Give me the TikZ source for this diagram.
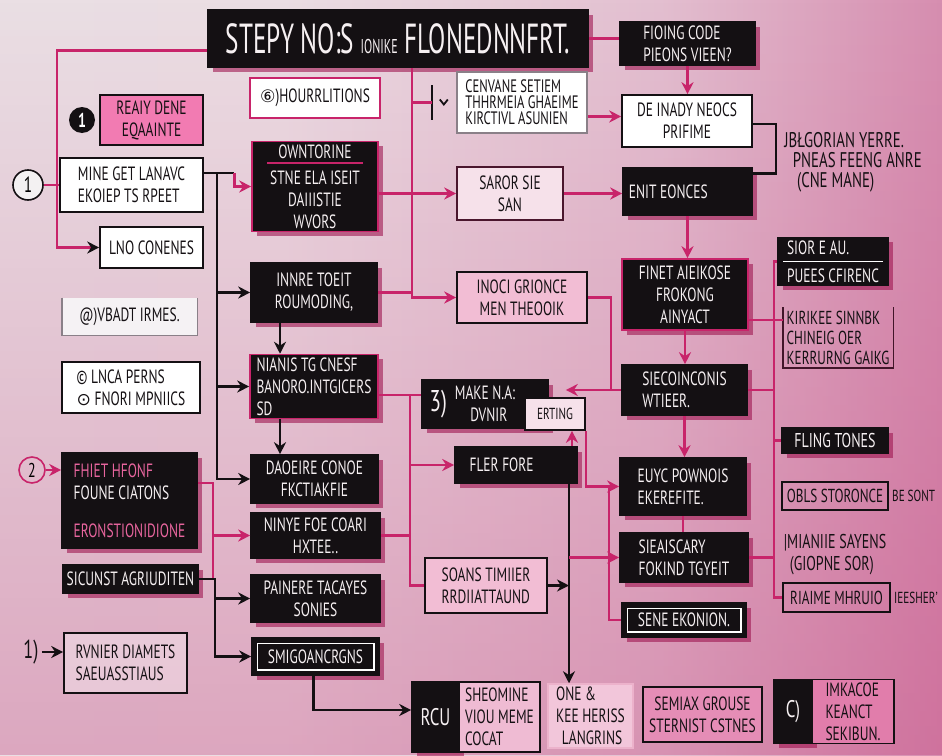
\documentclass[tikz,border=0pt]{standalone}
\usepackage{fontspec}
\setmainfont{PT Sans}[FakeStretch=0.7]
\newfontfamily\titlefont{PT Sans}[FakeStretch=0.6]
\newfontfamily\symfont{DejaVu Sans}
\usetikzlibrary{arrows.meta, shadows, fadings}
\definecolor{fcInk}{HTML}{141013}
\definecolor{fcText}{HTML}{F6F0F2}
\definecolor{fcPink}{HTML}{C8246A}
\definecolor{fcHot}{HTML}{F27BB2}
\definecolor{fcHotText}{HTML}{E8659E}
\definecolor{fcRose}{HTML}{F2BDD4}
\definecolor{fcBlush}{HTML}{F6E1EA}
\definecolor{fcCandy}{HTML}{E58DB6}
\definecolor{fcGrey}{HTML}{8A8088}
\definecolor{fcWallA}{HTML}{E8E3E6}
\definecolor{fcWallB}{HTML}{EBDDE3}
\definecolor{fcWallC}{HTML}{E3BFD0}
\definecolor{fcWallD}{HTML}{D27DA5}
\definecolor{fcWallE}{HTML}{C23F7B}
\definecolor{fcShade}{HTML}{9E1650}
\pgfdeclarehorizontalshading{fcwall}{100bp}{color(0bp)=(fcWallA); color(40bp)=(fcWallB);
  color(60bp)=(fcWallC); color(80bp)=(fcWallD); color(100bp)=(fcWallE)}
\tikzfading[name=fcrise, top color=transparent!100, bottom color=transparent!0]
\tikzset{
  fcnode/.style={align=left, inner sep=1.5pt, text=fcInk,
    font=\fontsize{9.6}{11}\selectfont},
  wh/.style 2 args={minimum width=#1*0.5pt, minimum height=#2*0.5pt},
  inkbox/.style={fcnode, fill=fcInk, draw=fcInk, thick, text=fcText,
    drop shadow={shadow xshift=2.4pt, shadow yshift=-2.4pt, fill=fcShade, opacity=0.6}},
  inkpink/.style={inkbox, draw=fcPink},
  paperbox/.style={fcnode, fill=white, draw=fcInk, thick},
  rosebox/.style={fcnode, fill=fcRose, draw=fcInk, thick},
  candybox/.style={fcnode, fill=fcCandy, draw=fcInk, thick},
  ring/.style={circle, draw=fcInk, thick, inner sep=0pt, minimum size=15pt,
    font=\fontsize{11}{12}\selectfont},
  pinkline/.style={fcPink, line width=1.2pt},
  pinkarrow/.style={pinkline, -{Stealth[length=6pt, width=6pt]}},
  pinkinkarrow/.style={pinkline, -{Stealth[length=6pt, width=6pt, color=fcInk]}},
  inkline/.style={fcInk, line width=1.1pt},
  inkarrow/.style={inkline, -{Stealth[length=6pt, width=6pt]}},
  innerframe/.style={white, line width=0.7pt}
}

\begin{document}
\begin{tikzpicture}[x=0.5pt, y=-0.5pt]
  \useasboundingbox (0,0) rectangle (942,755);
  \shade[shading=fcwall] (0,0) rectangle (942,755);
  \fill[fcWallE, path fading=fcrise, fill opacity=0.35] (0,0) rectangle (942,755);

  % title and top row
  \node[inkbox, wh={380}{57}, align=center, font=\titlefont\fontsize{21}{22}\selectfont] (title) at (398,38.5)
    {STEPY NO:S {\fontsize{10}{10}\selectfont IONIKE} FLONEDNNFRT.};
  \node[inkbox, wh={135}{43}] (fioing) at (687.5,43.5) {FIOING CODE\\PIEONS VIEEN?};

  % left column
  \node[circle, fill=fcInk, text=white, inner sep=0pt, minimum size=13pt,
    font=\bfseries\fontsize{10}{12}\selectfont] (dot1) at (82,120) {1};
  \node[fcnode, fill=fcHot, draw=fcInk, thick, wh={103}{50}, align=center] (ready) at (151.5,120) {REAIY DENE\\EQAAINTE};
  \node[ring, fill=white!50!fcWallA] (one1) at (28,185) {1};
  \node[paperbox, line width=1.4pt, wh={143}{54}] (mine) at (131.5,185) {MINE GET LANAVC\\EKOIEP TS RPEET};
  \node[paperbox, wh={103}{41}] (lno) at (151.5,247.5) {LNO CONENES};
  \node[fcnode, fill=white!55!fcWallA, wh={135}{37}] (vbadt) at (129.5,316.5) {@)VBADT IRMES.};
  \draw[inkline, fcGrey, line width=0.9pt] (vbadt.north west) |- (vbadt.south east) -- (vbadt.north east);
  \node[paperbox, wh={138}{51}] (lnca) at (131,387.5) {© LNCA PERNS\\{\symfont\fontsize{8.6}{10}\selectfont ⊙} FNORI MPNIICS};
  \node[ring, draw=fcPink, minimum size=13pt, font=\fontsize{10}{12}\selectfont] (two) at (32,470) {2};
  \node[inkbox, wh={135}{95}] (fhiet) at (129.5,500.5)
    {\textcolor{fcHotText}{FHIET HFONF}\\FOUNE CIATONS\\[8pt]\textcolor{fcHotText}{ERONSTIONIDIONE}};
  \node[inkbox, wh={135}{28}] (sicunst) at (130.5,579) {SICUNST AGRIUDITEN};
  \node[fcnode, font=\fontsize{13}{14}\selectfont] (one3) at (31,652) {1)};
  \node[fcnode, fill=white, fill opacity=0.35, text opacity=1, draw=fcInk, thick, wh={123}{60}] (rvnier) at (125.5,663)
    {RVNIER DIAMETS\\SAEUASSTIAUS};

  % second column
  \node[fcnode, fill=white, draw=fcPink, line width=1.4pt, wh={130}{40}] (hourr) at (315,98)
    {{\symfont\fontsize{8.6}{10}\selectfont ⑥})HOURRLITIONS};
  \node[inkpink, wh={126}{83}, align=center] (ohm) at (315,186.5) {OWNTORINE\\[2pt]STNE ELA ISEIT\\DAIIISTIE\\WVORS};
  \draw[pinkline, line width=0.9pt] ([shift={(8pt,-11pt)}]ohm.north west) -- ([shift={(-8pt,-11pt)}]ohm.north east);
  \node[inkbox, wh={126}{59}, align=center] (innre) at (314,292.5) {INNRE TOEIT\\ROUMODING,};
  \node[inkpink, wh={128}{61}] (nianis) at (314,386.5) {NIANIS TG CNESF\\BANORO.INTGICERS\\SD};
  \node[inkbox, wh={127}{48}, align=center] (daoeire) at (314.5,479) {DAOEIRE CONOE\\FKCTIAKFIE};
  \node[inkbox, wh={129}{45}, align=center] (ninye) at (315.5,535.5) {NINYE FOE COARI\\HXTEE..};
  \node[inkbox, wh={129}{47}, align=center] (painere) at (315.5,598.5) {PAINERE TACAYES\\SONIES};
  \node[inkbox, wh={127}{37}] (smig) at (315.5,656.5) {SMIGOANCRGNS};
  \draw[innerframe] ([shift={(3pt,-3pt)}]smig.north west) rectangle ([shift={(-3pt,3pt)}]smig.south east);

  % third column
  \node[fcnode, fill=white, draw=fcGrey, line width=1.2pt, wh={130}{61}, font=\fontsize{9}{8}\selectfont] (cenv) at (522,102.5)
    {CENVANE SETIEM\\THHRMEIA GHAEIME\\KIRCTIVL ASUNIEN};
  \draw[inkline, line width=0.9pt] ([shift={(-12pt,8.75pt)}]cenv.west) -- ([shift={(-12pt,-8.75pt)}]cenv.west);
  \draw[inkline, line width=0.9pt] ([shift={(-8pt,1.5pt)}]cenv.west) -- ([shift={(-6pt,-1pt)}]cenv.west) -- ([shift={(-4pt,1.5pt)}]cenv.west);
  \node[fcnode, fill=fcBlush, draw=fcInk!70!fcPink, thick, wh={106}{53}, align=center] (saror) at (510,193.5) {SAROR SIE\\SAN};
  \node[rosebox, wh={130}{51}, align=center] (inoci) at (522,297.5) {INOCI GRIONCE\\MEN THEOOIK};
  \node[inkbox, wh={126}{48}, label={[text=fcText, anchor=west, inner xsep=4pt,
    font=\fontsize{15}{15}\selectfont]west:3)}] (make) at (485,404) {MAKE N.A:\\\hspace*{0.8em}DVNIR};
  \node[fcnode, fill=fcBlush, draw=fcInk, thick, wh={60}{32}, font=\fontsize{8}{9}\selectfont] (erting) at (555,414) {ERTING};
  \node[inkbox, wh={122}{36}] (fler) at (516,465) {FLER FORE\hspace*{1.5em}};
  \node[rosebox, wh={122}{55}] (soans) at (486,585.5) {SOANS TIMIIER\\RRDIIATTAUND};

  % fourth column
  \node[paperbox, wh={130}{52}, align=center] (deinady) at (687,121) {DE INADY NEOCS\\PRIFIME};
  \node[inkbox, wh={129}{47}] (enit) at (687.5,191.5) {ENIT EONCES\hspace*{2em}};
  \node[inkpink, wh={126}{71}, align=center] (finet) at (685,294.5) {FINET AIEIKOSE\\FROKONG\\AINYACT};
  \node[inkbox, wh={125}{50}] (sieco) at (684.5,390) {SIECOINCONIS\\WTIEER.};
  \node[inkbox, wh={126}{57}] (euyc) at (683,486.5) {EUYC POWNOIS\\EKEREFITE.};
  \node[inkbox, wh={128}{49}] (siea) at (684,557.5) {SIEAISCARY\\FOKIND TGYEIT};
  \node[inkbox, wh={124}{34}] (sene) at (684,620) {SENE EKONION.};
  \draw[innerframe] ([shift={(3pt,-3pt)}]sene.north west) rectangle ([shift={(-3pt,3pt)}]sene.south east);

  % right column
  \node[fcnode, anchor=west, font=\fontsize{10.6}{10}\selectfont] (jbl) at (781,162.5)
    {JBŁGORIAN YERRE.\\\hspace*{0.4em}PNEAS FEENG ANRE\\\hspace*{0.6em}(CNE MANE)};
  \node[inkbox, wh={110}{47}] (sior) at (833,261.5) {SIOR E AU.\\[3pt]PUEES CFIRENC};
  \draw[innerframe] ([xshift=3pt]sior.west) -- ([xshift=-3pt]sior.east);
  \node[fcnode, wh={110}{59}, font=\fontsize{9.4}{10}\selectfont] (kirikee) at (838,337.5)
    {KIRIKEE SINNBK\\CHINEIG OER\\KERRURNG GAIKG};
  \draw[fcInk!75!fcPink, line width=0.9pt] (kirikee.north west) |- (kirikee.south east) -- (kirikee.north east);
  \node[inkbox, wh={106}{25}, font=\fontsize{10}{11}\selectfont] (fling) at (835,440.5) {FLING TONES};
  \node[fcnode, draw=fcInk, thick, wh={106}{28}, font=\fontsize{9.4}{10}\selectfont] (obls) at (835,496) {OBLS STORONCE};
  \node[fcnode, anchor=west, font=\fontsize{8}{9}\selectfont] (besont) at (obls.east) {BE SONT};
  \node[fcnode, font=\fontsize{10}{11}\selectfont] (mian) at (835,555) {|MIANIIE SAYENS\\\hspace*{0.3em}(GIOPNE SOR)};
  \node[fcnode, draw=fcInk, thick, wh={107}{29}, font=\fontsize{9.4}{10}\selectfont] (riaime) at (836.5,597.5) {RIAIME MHRUIO};
  \node[fcnode, anchor=west, font=\fontsize{8}{9}\selectfont] (ieesher) at (riaime.east) {IEESHER'};

  % bottom row
  \node[inkbox, wh={47}{70}, font=\fontsize{12}{12}\selectfont] (rcuk) at (435.5,717) {RCU};
  \node[fcnode, fill=fcCandy!60!white, draw=fcInk, thick, wh={81}{70}] (rcu) at (499.5,717) {SHEOMINE\\VIOU MEME\\COCAT};
  \node[fcnode, fill=fcCandy!50!white, draw=white!65!fcPink, thick, wh={85}{62}] (onek) at (590.5,716)
    {ONE \&\\KEE HERISS\\\hspace*{0.3em}LANGRINS};
  \node[candybox, wh={119}{55}, align=center] (semiax) at (702.5,714.5) {SEMIAX GROUSE\\STERNIST CSTNES};
  \node[inkbox, wh={38}{63}, font=\fontsize{12}{12}\selectfont] (cjk) at (793,711.5) {C)};
  \node[candybox, fill=fcCandy!85!fcPink, wh={82}{63}] (cjt) at (853,711.5) {IMKACOE\\KEANCT\\SEKIBUN.};

  % pink connectors
  \draw[pinkinkarrow] ([yshift=-6pt]title.west) -| (57,100) |- (lno.west);
  \draw[pinkline] (title.east) -- (title.east -| fioing.west);
  \draw[pinkarrow] ([xshift=7pt]title.south) |- (inoci.west);
  \draw[pinkline] ([xshift=7pt]title.south |- cenv.west) -- ([xshift=-12pt]cenv.west);
  \draw[pinkline] (innre.east) -- ([xshift=7pt]title.south |- innre.east);
  \draw[pinkarrow] (ohm.east |- saror.west) -- (saror.west);
  \draw[pinkarrow] (saror.east) -- (saror.east -| enit.west);
  \draw[pinkarrow] (fioing.south) -- (fioing.south |- deinady.north);
  \draw[pinkarrow] ([yshift=-7pt]cenv.east) -- ([yshift=-7pt]cenv.east -| deinady.west);
  \draw[pinkarrow] (enit.south) -- (enit.south |- finet.north);
  \draw[pinkarrow] (finet.south) -- (finet.south |- sieco.north);
  \draw[pinkarrow] (sieco.south) -- (sieco.south |- euyc.north);
  \draw[pinkline] (euyc.south) -- (euyc.south |- siea.north);
  \draw[pinkline] (inoci.east) -| ([xshift=-5pt]sieco.west) -- (sieco.west);
  \draw[pinkarrow] ([xshift=-5pt]sieco.west) -- ([xshift=8.5pt]make.east |- sieco.west);
  \coordinate (pb) at (410,395);
  \draw[pinkline] ([yshift=-4.25pt]nianis.east) -- ([yshift=-4.25pt]nianis.east -| make.west);
  \draw[pinkline] (pb) |- (soans.west);
  \draw[pinkarrow] (pb |- fler.west) -- (fler.west);
  \draw[pinkline] (ninye.east) -- (ninye.east -| pb);
  \draw[pinkarrow] ([xshift=8.5pt]erting.south |- fler.north) -- ([xshift=8.5pt]erting.south);
  \draw[pinkarrow] (erting.south east) |- (euyc.west);
  \draw[pinkline] ([xshift=-5pt]euyc.west) |- (sene.west);
  \coordinate (rb) at (774,261.5);
  \draw[pinkline] (sior.west) -- (rb) |- (riaime.west);
  \foreach \n in {sieco, siea}
    \draw[pinkline] (\n.east) -- (rb |- \n.east);
  \draw[pinkline] (rb |- fling.west) -- (fling.west);
  \draw[pinkline] ([yshift=-12.75pt]finet.east) -- ([yshift=-12.75pt]finet.east -| kirikee.west);
  \draw[pinkline] (one1.east) -- (mine.west);
  \draw[pinkarrow] (two.east) -- (two.east -| fhiet.west);
  \coordinate (pl) at (213,483);
  \draw[pinkline] ([yshift=8.75pt]fhiet.east) -- (pl) -- (pl |- sicunst.east);
  \draw[pinkarrow] (pl |- ninye.west) -- (ninye.west);

  % ink connectors
  \draw[inkline] ([yshift=6pt]mine.east) -- ++(30,0) coordinate (mj);
  \draw[pinkarrow] (mj) |- (ohm.west);
  \coordinate (lb) at (217,173);
  \draw[inkarrow] (lb) |- (daoeire.west);
  \foreach \n in {innre, nianis}
    \draw[inkarrow] (lb |- \n.west) -- (\n.west);
  \draw[inkarrow] (innre.south -| 280,0) -- (nianis.north -| 280,0);
  \draw[inkarrow] (nianis.south -| 280,0) -- (daoeire.north -| 280,0);
  \coordinate (sb) at (215,579);
  \draw[inkarrow] (sicunst.east) -- (sb) |- (smig.west);
  \draw[inkarrow] (sb |- painere.west) -- (painere.west);
  \draw[inkarrow] (one3.east) -- (one3.east -| rvnier.west);
  \draw[inkarrow] ([xshift=-1pt]smig.south) |- ([yshift=3.5pt]rcuk.west);
  \coordinate (vb) at (569,483);
  \draw[inkarrow] (vb) -- (vb |- onek.north);
  \draw[inkarrow] (soans.east) -- (soans.east -| vb);
  \draw[pinkarrow] (vb |- siea.west) -- (siea.west);
  \draw[inkline] ([yshift=-1.5pt]deinady.east) -- ++(23,0) |- ([yshift=9pt]enit.east);
\end{tikzpicture}
\end{document}
